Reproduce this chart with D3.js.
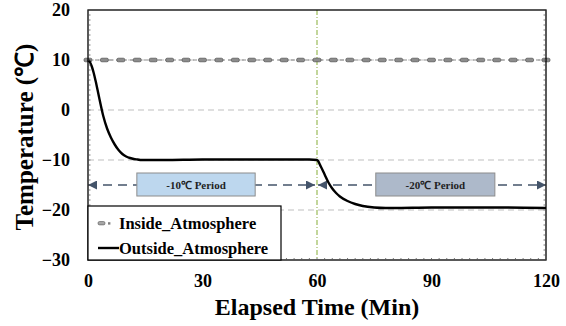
<!DOCTYPE html>
<html>
<head>
<meta charset="utf-8">
<script src="https://cdnjs.cloudflare.com/ajax/libs/d3/7.8.5/d3.min.js"></script>
<style>
	body { margin: 0; background: #fff; }
	svg { display: block; }
	text { font-family: "Liberation Serif", "Times New Roman", serif; font-weight: bold; }
</style>
</head>
<body>
<svg id="chart" width="566" height="326"></svg>
<script>
"use strict";

// outside atmosphere (black solid curve)
var outsideTime = [0, 0.5, 1, 1.5, 2, 3, 4, 5, 6, 7, 8, 9, 10, 11, 12, 13, 14, 16, 20, 30, 40, 50, 58, 60,
	61, 62, 63, 64, 65, 66, 68, 70, 72, 75, 78, 80, 90, 100, 110, 120];
var outsideTemp = [10, 9.6, 8.7, 7.4, 5.8, 2.2, -1.2, -3.7, -5.5, -6.9, -8.0, -8.8, -9.3, -9.6, -9.8, -9.9, -10, -10, -10, -9.9, -9.9, -9.9, -9.9, -10,
	-11.3, -12.9, -14.5, -15.7, -16.6, -17.3, -18.2, -18.8, -19.2, -19.5, -19.6, -19.6, -19.5, -19.5, -19.5, -19.6];

// inside atmosphere (grey dashed with markers)
var insideTime = [0, 4.3, 8.6, 12.9, 17.1, 21.4, 25.7, 30, 34.3, 38.6, 42.9, 47.1, 51.4, 55.7, 60,
	64.3, 68.6, 72.9, 77.1, 81.4, 85.7, 90, 94.3, 98.6, 102.9, 107.1, 111.4, 115.7, 120];
var insideTemp = [10, 10, 10, 10, 10, 10, 10, 10, 10, 10, 10, 10, 10, 10, 10,
	10, 10, 10, 10, 10, 10, 10, 10, 10, 10, 10, 10, 10, 10];

var xTicks = [0, 30, 60, 90, 120];
var yTicks = [-30, -20, -10, 0, 10, 20];
var gridValues = [-20, -10, 0, 10];

// period annotations
var periodNames = ["-10\u2103 Period", "-20\u2103 Period"];
var periodStart = [0, 60];
var periodEnd = [60, 120];
var periodBoxFrom = [12.8, 75.4];
var periodBoxTo = [43.8, 106.6];
var periodFill = ["#bdd7ee", "#adb9ca"];
var arrowLevel = -15;
var boxTop = -12.6;
var boxBottom = -17.2;

var seriesNames = ["Inside_Atmosphere", "Outside_Atmosphere"];

var svg = d3.select("#chart");
var margin = { left: 88, right: 20, top: 10, bottom: 66 };
var width = 566 - margin.left - margin.right;
var height = 326 - margin.top - margin.bottom;

var x = d3.scaleLinear().domain([0, 120]).range([0, width]);
var y = d3.scaleLinear().domain([-30, 20]).range([height, 0]);

var defs = svg.append("defs");
defs.append("marker").attr("id", "arrowHead")
	.attr("viewBox", "0 0 10 10").attr("refX", 10).attr("refY", 5)
	.attr("markerWidth", 10).attr("markerHeight", 9).attr("markerUnits", "userSpaceOnUse")
	.attr("orient", "auto-start-reverse")
	.append("path").attr("d", "M0,0 L10,5 L0,10 Z").attr("fill", "#44546a");

var g = svg.append("g").attr("transform", "translate(" + margin.left + "," + margin.top + ")");

// grid lines
g.selectAll("line.grid").data(gridValues).enter().append("line")
	.attr("class", "grid")
	.attr("x1", 0).attr("x2", width)
	.attr("y1", function (d) { return y(d); }).attr("y2", function (d) { return y(d); })
	.attr("stroke", "#bfbfbf").attr("stroke-width", 1).attr("stroke-dasharray", "6,4");

// 60 min divider
g.append("line")
	.attr("x1", x(60)).attr("x2", x(60)).attr("y1", 0).attr("y2", height)
	.attr("stroke", "#9bbb59").attr("stroke-width", 1.2).attr("stroke-dasharray", "5,2,1,2");

// period arrows
for (var i = 0; i < periodNames.length; i++) {
	g.append("line")
		.attr("x1", x(periodStart[i]) + (i == 0 ? 0 : 1)).attr("x2", x(periodEnd[i]) - (i == 0 ? 2 : 0))
		.attr("y1", y(arrowLevel)).attr("y2", y(arrowLevel))
		.attr("stroke", "#44546a").attr("stroke-width", 1.3).attr("stroke-dasharray", "9,6")
		.attr("marker-start", "url(#arrowHead)").attr("marker-end", "url(#arrowHead)");
}

// inside series
var line = d3.line().x(function (d) { return x(d[0]); }).y(function (d) { return y(d[1]); });
var insideData = d3.zip(insideTime, insideTemp);
g.append("path").datum(insideData).attr("d", line)
	.attr("fill", "none").attr("stroke", "#8c8c8c").attr("stroke-width", 1).attr("stroke-dasharray", "4,3");
g.selectAll("rect.inMark").data(insideData).enter().append("rect")
	.attr("class", "inMark")
	.attr("x", function (d) { return x(d[0]) - 4; }).attr("y", function (d) { return y(d[1]) - 1.8; })
	.attr("width", 8).attr("height", 3.6).attr("rx", 1.5)
	.attr("fill", "#8c8c8c").attr("stroke", "#4d4d4d").attr("stroke-width", 0.7);

// outside series
var outsideData = d3.zip(outsideTime, outsideTemp);
g.append("path").datum(outsideData).attr("d", line.curve(d3.curveMonotoneX))
	.attr("fill", "none").attr("stroke", "#000").attr("stroke-width", 2.4);

// period boxes
for (var j = 0; j < periodNames.length; j++) {
	g.append("rect")
		.attr("x", x(periodBoxFrom[j])).attr("y", y(boxTop))
		.attr("width", x(periodBoxTo[j]) - x(periodBoxFrom[j])).attr("height", y(boxBottom) - y(boxTop))
		.attr("fill", periodFill[j]).attr("stroke", "#8c8c8c").attr("stroke-width", 1);
	g.append("text")
		.attr("x", (x(periodBoxFrom[j]) + x(periodBoxTo[j])) / 2).attr("y", y(arrowLevel) + 4)
		.attr("text-anchor", "middle").attr("font-size", 11).attr("fill", "#1f1f1f")
		.text(periodNames[j]);
}

// frame
g.append("rect").attr("x", 0).attr("y", 0).attr("width", width).attr("height", height)
	.attr("fill", "none").attr("stroke", "#000").attr("stroke-width", 1.3);

// minor ticks
var yMinor = d3.range(-30, 21);
g.selectAll("line.ymL").data(yMinor).enter().append("line")
	.attr("x1", 0).attr("x2", 2.5).attr("y1", function (d) { return y(d); }).attr("y2", function (d) { return y(d); })
	.attr("stroke", "#555").attr("stroke-width", 0.8);
g.selectAll("line.ymR").data(yMinor).enter().append("line")
	.attr("x1", width - 2.5).attr("x2", width).attr("y1", function (d) { return y(d); }).attr("y2", function (d) { return y(d); })
	.attr("stroke", "#555").attr("stroke-width", 0.8);
var xMinor = d3.range(0, 121, 2);
g.selectAll("line.xm").data(xMinor).enter().append("line")
	.attr("x1", function (d) { return x(d); }).attr("x2", function (d) { return x(d); })
	.attr("y1", height - 2).attr("y2", height)
	.attr("stroke", "#555").attr("stroke-width", 0.8);

// axes labels
var xAxis = g.append("g").attr("transform", "translate(0," + height + ")")
	.call(d3.axisBottom(x).tickValues(xTicks).tickSize(0).tickPadding(14));
xAxis.select(".domain").remove();
xAxis.attr("font-family", "Liberation Serif").attr("font-size", 18).attr("font-weight", "bold");
xAxis.selectAll("text").attr("fill", "#000");

var yAxis = g.append("g")
	.call(d3.axisLeft(y).tickValues(yTicks).tickSize(0).tickPadding(18));
yAxis.select(".domain").remove();
yAxis.attr("font-family", "Liberation Serif").attr("font-size", 18).attr("font-weight", "bold");
yAxis.selectAll("text").attr("fill", "#000");

// legend
var legend = g.append("g");
legend.append("rect").attr("x", 0).attr("y", y(-19.2)).attr("width", 193).attr("height", y(-30) - y(-19.2))
	.attr("fill", "#fff").attr("stroke", "#000").attr("stroke-width", 1.2);
legend.append("rect").attr("x", 10).attr("y", 211.5).attr("width", 7).attr("height", 3.4).attr("rx", 1.5)
	.attr("fill", "#a6a6a6").attr("stroke", "#595959").attr("stroke-width", 0.6);
legend.append("rect").attr("x", 20).attr("y", 212.2).attr("width", 2.4).attr("height", 2.4)
	.attr("fill", "#7f7f7f");
legend.append("line").attr("x1", 10).attr("x2", 31).attr("y1", 238).attr("y2", 238)
	.attr("stroke", "#000").attr("stroke-width", 2.4);
legend.append("text").attr("x", 31).attr("y", 219).attr("font-size", 16.5).text(seriesNames[0]);
legend.append("text").attr("x", 31).attr("y", 244).attr("font-size", 16.5).text(seriesNames[1]);

// axis titles
svg.append("text").attr("x", margin.left + width / 2).attr("y", 315)
	.attr("text-anchor", "middle").attr("font-size", 24).text("Elapsed Time (Min)");
svg.append("text").attr("transform", "translate(33," + (margin.top + height / 2 + 2) + ") rotate(-90)")
	.attr("text-anchor", "middle").attr("font-size", 25).text("Temperature (\u2103)");
</script>
</body>
</html>
